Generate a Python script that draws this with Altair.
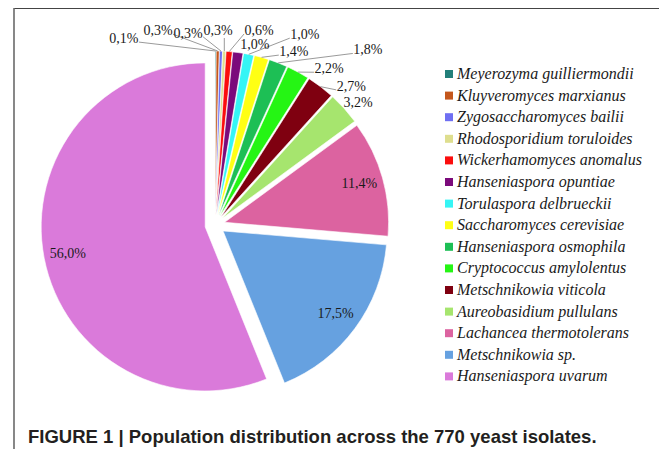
import altair as alt
import pandas as pd

# ---- data ----
species = [
    "Meyerozyma guilliermondii", "Kluyveromyces marxianus", "Zygosaccharomyces bailii",
    "Rhodosporidium toruloides", "Wickerhamomyces anomalus", "Hanseniaspora opuntiae",
    "Torulaspora delbrueckii", "Saccharomyces cerevisiae", "Hanseniaspora osmophila",
    "Cryptococcus amylolentus", "Metschnikowia viticola", "Aureobasidium pullulans",
    "Lachancea thermotolerans", "Metschnikowia sp.", "Hanseniaspora uvarum",
]
percent = [0.1, 0.3, 0.3, 0.3, 0.6, 1.0, 1.0, 1.4, 1.8, 2.2, 2.7, 3.2, 11.4, 17.5, 56.0]
colors = [
    "#227f7a", "#c4571c", "#6f6ff2", "#dede8e", "#fb0d0d", "#7b0a7b",
    "#35f5f5", "#ffff14", "#1dbf55", "#25f514", "#7f0010", "#a6e56e",
    "#dc63a0", "#66a1e0", "#da7ada",
]
caption = ["FIGURE 1 | Population distribution across the 770 yeast isolates."]

# ---- layout of the outside labels (angle in degrees clockwise from 12 o'clock, radius in px) ----
label_angle = [-26.1, -16.4, -8.0, 0.9, 12.8, 12.5, 25.3, 24.5, 41.2, 36.2, 44.6, 49.5, None, None, None]
label_radius = [207, 202, 193, 194, 199, 184, 210, 190, 232, 193, 194, 188, None, None, None]

CX, CY, R, EXPLODE = 207, 217, 164, 10

df = pd.DataFrame({
    "species": species,
    "pct": percent,
    "order": list(range(len(species))),
    "la": label_angle,
    "lr": label_radius,
})

base = (
    alt.Chart(df)
    .transform_joinaggregate(total="sum(pct)")
    .transform_window(cum="sum(pct)", sort=[alt.SortField("order")], frame=[None, 0])
    .transform_calculate(
        a0="2*PI*(datum.cum - datum.pct)/datum.total",
        a1="2*PI*datum.cum/datum.total",
    )
    .transform_calculate(mid="(datum.a0 + datum.a1)/2")
    .transform_calculate(
        cx=f"{CX} + {EXPLODE}*sin(datum.mid)",
        cy=f"{CY} - {EXPLODE}*cos(datum.mid)",
    )
)

arcs = base.mark_arc(radius=R, stroke="white", strokeWidth=0.6).encode(
    theta=alt.Theta("a0:Q", scale=None),
    theta2="a1:Q",
    x=alt.X("cx:Q", scale=None, axis=None),
    y=alt.Y("cy:Q", scale=None, axis=None),
    color=alt.Color(
        "species:N",
        scale=alt.Scale(domain=species, range=colors),
        legend=alt.Legend(
            title=None, orient="none", legendX=433, legendY=58,
            symbolType="square", symbolSize=64, symbolStrokeWidth=0,
            labelFont="Liberation Serif", labelFontStyle="italic",
            labelFontSize=16, labelColor="#1a1a1a", labelLimit=400,
            labelOffset=0, rowPadding=5.6, padding=0,
        ),
    ),
)

labeled = base.transform_calculate(
    lx=f"isValid(datum.la) ? {CX} + datum.lr*sin(datum.la*PI/180) : datum.cx + 140*sin(datum.mid)",
    ly=f"isValid(datum.la) ? {CY} - datum.lr*cos(datum.la*PI/180) : datum.cy - 140*cos(datum.mid)",
    txt="replace(format(datum.pct, '.1f'), '.', ',') + '%'",
    sx=f"datum.cx + {R}*sin(datum.mid)",
    sy=f"datum.cy - {R}*cos(datum.mid)",
)

texts = labeled.mark_text(
    font="Liberation Serif", fontSize=14, color="#1a1a1a", align="center", baseline="middle"
).encode(
    x=alt.X("lx:Q", scale=None, axis=None),
    y=alt.Y("ly:Q", scale=None, axis=None),
    text="txt:N",
)

leaders = (
    labeled.transform_filter("isValid(datum.la)")
    .transform_calculate(ddx="datum.lx - datum.sx")
    .transform_calculate(
        ax="datum.ddx < -10 ? datum.lx + 15 : (datum.ddx > 10 ? datum.lx - 15 : datum.sx)",
        ay="abs(datum.ddx) <= 10 ? datum.ly + 7 : datum.ly + 3",
    )
    .transform_filter("sqrt(pow(datum.ax - datum.sx, 2) + pow(datum.ay - datum.sy, 2)) > 6")
    .mark_rule(color="#808080", strokeWidth=0.8)
    .encode(
        x=alt.X("sx:Q", scale=None, axis=None),
        y=alt.Y("sy:Q", scale=None, axis=None),
        x2="ax:Q",
        y2="ay:Q",
    )
)

cap = alt.Chart(pd.DataFrame({"t": caption})).mark_text(
    font="Liberation Sans", fontWeight="bold", fontSize=18.5, color="#231f20",
    align="left", baseline="alphabetic",
).encode(x=alt.value(20), y=alt.value(435), text="t:N")

one = pd.DataFrame({"k": [0]})
frame_top = alt.Chart(one).mark_rule(color="#444444", strokeWidth=1.8).encode(
    x=alt.value(6), x2=alt.value(651), y=alt.value(0)
)
frame_left = alt.Chart(one).mark_rule(color="#6a6a6a", strokeWidth=1.6).encode(
    x=alt.value(6), y=alt.value(0), y2=alt.value(441)
)

chart = (
    alt.layer(arcs, leaders, texts, cap, frame_top, frame_left)
    .properties(width=651, height=441, padding=0, autosize=alt.AutoSizeParams(type="none"))
    .configure_view(stroke=None)
)

chart.save("out.html", embed_options={"renderer": "svg", "actions": False})
